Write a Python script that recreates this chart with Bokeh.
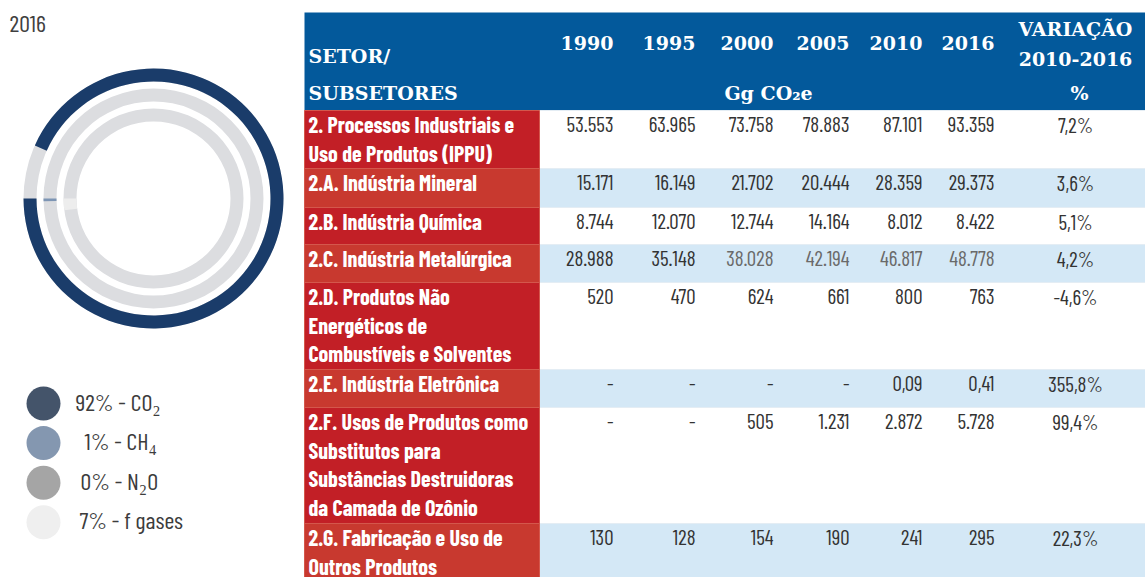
import math
from bokeh.plotting import figure
from bokeh.models import Range1d, ColumnDataSource
from bokeh.core.properties import value
from bokeh.embed import file_html
from bokeh.resources import INLINE

# ---------------- data ----------------
chart_title = "2016"
gases = ["CO₂", "CH₄", "N₂O", "f gases"]
gas_pct = [92, 1, 0, 7]
gas_colors = ["#44546a", "#8497b0", "#a5a5a5", "#efefef"]

# share drawn on each ring
ring_gases = ["CO₂", "CH₄", "f gases"]
ring_share = [93.3, 0.4, 2.1]
ring_colors = ["#1a3c6a", "#7d95b4", "#ededed"]

years = ["1990", "1995", "2000", "2005", "2010", "2016"]
sectors = [
    "2. Processos Industriais e\nUso de Produtos (IPPU)",
    "2.A. Indústria Mineral",
    "2.B. Indústria Química",
    "2.C. Indústria Metalúrgica",
    "2.D. Produtos Não\nEnergéticos de\nCombustíveis e Solventes",
    "2.E. Indústria Eletrônica",
    "2.F. Usos de Produtos como\nSubstitutos para\nSubstâncias Destruidoras\nda Camada de Ozônio",
    "2.G. Fabricação e Uso de\nOutros Produtos",
]
v1990 = [53553, 15171, 8744, 28988, 520, None, None, 130]
v1995 = [63965, 16149, 12070, 35148, 470, None, None, 128]
v2000 = [73758, 21702, 12744, 38028, 624, None, 505, 154]
v2005 = [78883, 20444, 14164, 42194, 661, None, 1231, 190]
v2010 = [87101, 28359, 8012, 46817, 800, 0.09, 2872, 241]
v2016 = [93359, 29373, 8422, 48778, 763, 0.41, 5728, 295]
variation = [7.2, 3.6, 5.1, 4.2, -4.6, 355.8, 99.4, 22.3]
unit_label = "Gg CO₂e"


def fmt_num(v):
    if v is None:
        return "-"
    if v < 1:
        return f"{v:.2f}".replace(".", ",")
    return f"{int(v):,}".replace(",", ".")


def fmt_pct(v):
    return f"{v:.1f}".replace(".", ",") + "%"


# ---------------- figure ----------------
W, H = 1145, 577
p = figure(width=W, height=H, x_range=Range1d(0, W), y_range=Range1d(0, H),
           output_backend="svg", toolbar_location=None, min_border=0,
           x_axis_location=None, y_axis_location=None)
p.grid.visible = False
p.outline_line_color = None
p.background_fill_color = "white"
p.border_fill_color = "white"


def Y(ry):
    return H - ry


COND = value("Barlow Condensed")
SLAB = value("DejaVu Serif")
TXT_OFF = 2.5  # Barlow's "middle" sits a little low

# title
p.text(x=[9], y=[Y(23)], text=[chart_title], text_font=COND, text_font_size="24px",
       text_color="#404040", text_baseline="middle", text_align="left")

# ---------------- radial rings ----------------
cx, cy = 153, Y(198)
ring_outer = [130, 110, 90]
ring_w = 13
rs = ColumnDataSource(dict(
    x=[cx] * len(ring_share), y=[cy] * len(ring_share),
    ro=ring_outer, ri=[r - ring_w for r in ring_outer],
    start=[math.pi] * len(ring_share),
    end=[math.pi + s / 100 * 2 * math.pi for s in ring_share],
    color=ring_colors,
))
p.annulus(x="x", y="y", inner_radius="ri", outer_radius="ro", source=rs,
          fill_color="#dcdde0", line_color=None)
p.annular_wedge(x="x", y="y", inner_radius="ri", outer_radius="ro", start_angle="start",
                end_angle="end", direction="anticlock", source=rs,
                fill_color="color", line_color=None)

# ---------------- legend ----------------
leg_ry = [403 + 39.6 * i for i in range(len(gases))]
ls = ColumnDataSource(dict(
    x=[43] * len(gases), y=[Y(r) for r in leg_ry], color=gas_colors,
    tx=[75, 84, 80, 79], ty=[Y(r - TXT_OFF) for r in leg_ry],
    label=[f"{v}% - {g}" if i != 3 else f"{v}%  - {g}" for i, (v, g) in enumerate(zip(gas_pct, gases))],
))
p.circle(x="x", y="y", radius=17, source=ls, fill_color="color", line_color=None)
p.text(x="tx", y="ty", text="label", source=ls, text_font=COND, text_font_size="24px",
       text_color="#3c3c3c", text_baseline="middle", text_align="left")

# ---------------- table ----------------
T_LEFT, T_LAB, T_RIGHT = 304, 539, 1145
HEAD_TOP, HEAD_BOT = 12, 110
col_right = [613, 695, 773, 849, 922, 994]
var_x = 1075

p.quad(left=[T_LEFT], right=[T_RIGHT], top=[Y(HEAD_TOP)], bottom=[Y(HEAD_BOT)],
       fill_color="#03599b", line_color=None)

head_font_size = "19px"
ht = ColumnDataSource(dict(
    x=[308, 308] + col_right,
    y=[Y(55), Y(92)] + [Y(42.5)] * len(years),
    text=["SETOR/", "SUBSETORES"] + years,
    align=["left", "left"] + ["right"] * len(years),
))
p.text(x="x", y="y", text="text", text_align="align", source=ht, text_font=SLAB,
       text_font_style="bold", text_font_size=head_font_size, text_color="white",
       text_baseline="middle")
hc = ColumnDataSource(dict(
    x=[var_x, var_x, var_x + 4, 768],
    y=[Y(28), Y(58), Y(92), Y(92)],
    text=["VARIAÇÃO", "2010-2016", "%", unit_label],
))
p.text(x="x", y="y", text="text", source=hc, text_font=SLAB, text_font_style="bold",
       text_font_size=head_font_size, text_color="white", text_baseline="middle",
       text_align="center")

row_heights = [58, 39, 37, 38, 87, 38, 116, 57]
LINE_H = 28.5
FIRST = 16 - TXT_OFF
tops = []
t = HEAD_BOT
for h in row_heights:
    tops.append(t)
    t += h
bots = [a + b for a, b in zip(tops, row_heights)]

lab_colors = ["#c21f26" if i % 2 == 0 else "#c8392f" for i in range(len(sectors))]
dat_colors = ["#ffffff" if i % 2 == 0 else "#d4e8f6" for i in range(len(sectors))]
p.quad(left=[T_LAB] * len(sectors), right=[T_RIGHT] * len(sectors),
       top=[Y(a) for a in tops], bottom=[Y(b) for b in bots],
       fill_color=dat_colors, line_color="#e4edf4", line_width=1)
p.quad(left=[T_LEFT] * len(sectors), right=[T_LAB] * len(sectors),
       top=[Y(a) for a in tops], bottom=[Y(b) for b in bots],
       fill_color=lab_colors, line_color="#d4574c", line_width=1)

# sector labels, one text per line
lx, ly, lt = [], [], []
for i, s in enumerate(sectors):
    for j, line in enumerate(s.split("\n")):
        lx.append(308)
        ly.append(Y(tops[i] + FIRST + LINE_H * j))
        lt.append(line)
p.text(x=lx, y=ly, text=lt, text_font=COND, text_font_style="bold", text_font_size="22px",
       text_color="white", text_baseline="middle", text_align="left")

# values
series = [v1990, v1995, v2000, v2005, v2010, v2016]
dx, dy, dt, dc = [], [], [], []
for c, ser in enumerate(series):
    for i, v in enumerate(ser):
        dx.append(col_right[c])
        dy.append(Y(tops[i] + FIRST))
        dt.append(fmt_num(v))
        dc.append("#6a6a6a" if (i == 3 and c >= 2) else "#333333")
p.text(x=dx, y=dy, text=dt, text_color=dc, text_font=COND, text_font_size="21px",
       text_baseline="middle", text_align="right")
p.text(x=[var_x] * len(variation), y=[Y(a + FIRST) for a in tops],
       text=[fmt_pct(v) for v in variation], text_color="#333333", text_font=COND,
       text_font_size="21px", text_baseline="middle", text_align="center")

open("out.html", "w").write(file_html(p, INLINE))
